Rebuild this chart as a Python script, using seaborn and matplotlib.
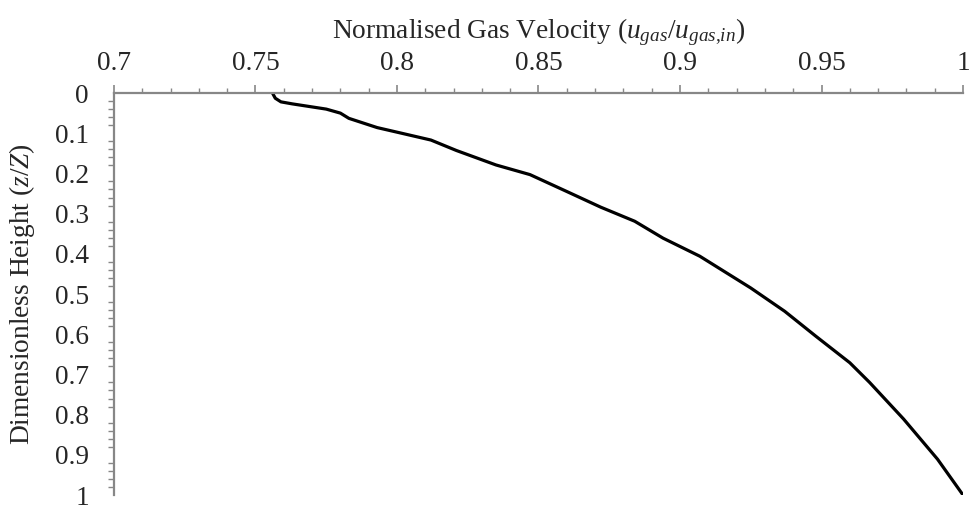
import numpy as np
import pandas as pd
import matplotlib
matplotlib.use("Agg")
import matplotlib.pyplot as plt
from matplotlib.ticker import MultipleLocator
import seaborn as sns

# Normalised gas velocity profile along the column height
velocity = [0.756, 0.757, 0.759, 0.763, 0.775, 0.780, 0.783, 0.793, 0.801,
            0.812, 0.821, 0.835, 0.847, 0.860, 0.872, 0.884, 0.894, 0.907,
            0.925, 0.937, 0.948, 0.960, 0.967, 0.979, 0.991, 1.000]
height = [0.000, 0.013, 0.022, 0.027, 0.040, 0.050, 0.063, 0.086, 0.099,
          0.117, 0.143, 0.179, 0.203, 0.245, 0.284, 0.319, 0.361, 0.406,
          0.485, 0.543, 0.605, 0.671, 0.720, 0.811, 0.911, 1.000]

x_ticks = [0.7, 0.75, 0.8, 0.85, 0.9, 0.95, 1.0]
x_tick_labels = ["0.7", "0.75", "0.8", "0.85", "0.9", "0.95", "1"]
y_ticks = [0.0, 0.1, 0.2, 0.3, 0.4, 0.5, 0.6, 0.7, 0.8, 0.9, 1.0]
y_tick_labels = ["0", "0.1", "0.2", "0.3", "0.4", "0.5", "0.6", "0.7", "0.8", "0.9", "1"]

df = pd.DataFrame({"velocity": velocity, "height": height})

sns.set_style("white")
plt.rcParams["font.family"] = ["Liberation Serif", "DejaVu Serif"]
plt.rcParams["mathtext.fontset"] = "custom"
plt.rcParams["mathtext.rm"] = "Liberation Serif"
plt.rcParams["mathtext.it"] = "Liberation Serif:italic"

FS = 19.7
axis_grey = "#878787"

fig = plt.figure(figsize=(9.7, 5.05), dpi=100)
ax = fig.add_axes([0.1175, 0.0198, 0.8753, 0.796])

sns.lineplot(data=df, x="velocity", y="height", sort=False, estimator=None,
             color="black", linewidth=2.3, ax=ax,
             solid_joinstyle="round", solid_capstyle="round")

ax.set_xlim(0.7, 1.0)
ax.set_ylim(1.0, 0.0)

ax.xaxis.set_ticks_position("top")
ax.xaxis.set_label_position("top")
ax.set_xticks(x_ticks)
ax.set_xticklabels(x_tick_labels)
ax.xaxis.set_minor_locator(MultipleLocator(0.01))
ax.set_yticks(y_ticks)
ax.set_yticklabels(y_tick_labels)
ax.yaxis.set_minor_locator(MultipleLocator(0.02))

ax.tick_params(axis="x", which="major", direction="out", length=5.5, width=1.2,
               color=axis_grey, labelsize=FS, pad=7)
ax.tick_params(axis="x", which="minor", direction="out", length=3.5, width=1.0,
               color=axis_grey, top=True)
ax.tick_params(axis="y", which="major", direction="out", length=6, width=1.2,
               color=axis_grey, labelsize=FS, pad=12)
ax.tick_params(axis="y", which="minor", direction="out", length=4, width=1.0,
               color=axis_grey, left=True)

for side in ("right", "bottom"):
    ax.spines[side].set_visible(False)
for side in ("top", "left"):
    ax.spines[side].set_color(axis_grey)
    ax.spines[side].set_linewidth(1.6)

ax.set_xlabel(r"Normalised Gas Velocity ($u_{gas}$/$u_{gas{,}in}$)", fontsize=FS, labelpad=9)
ax.set_ylabel(r"Dimensionless Height ($z$/$Z$)", fontsize=FS, labelpad=13)
ax.grid(False)

fig.savefig("out.png", dpi=100, facecolor="white")
